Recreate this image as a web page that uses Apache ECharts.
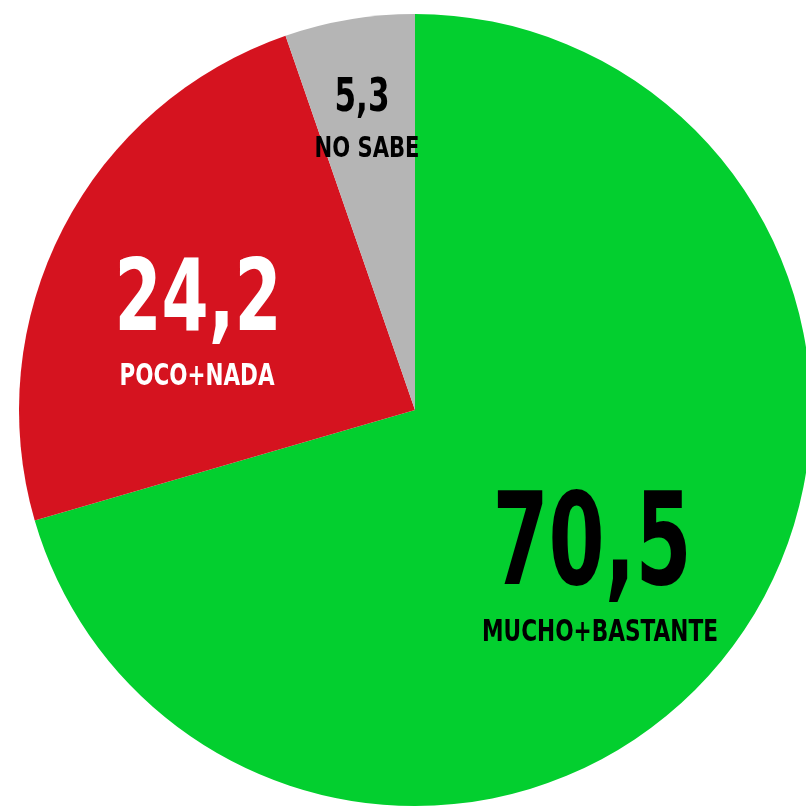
<!DOCTYPE html>
<html>
<head>
<meta charset="utf-8">
<script src="https://cdn.jsdelivr.net/npm/echarts@6/dist/echarts.min.js"></script>
<style>
  html, body { margin: 0; padding: 0; background: #fff; }
  #chart1 { width: 806px; height: 810px; }
</style>
</head>
<body>
<div id="chart1"></div>
<script>
// datos de la encuesta
var categorias = ['MUCHO+BASTANTE', 'POCO+NADA', 'NO SABE'];
var valores = [70.5, 24.2, 5.3];
var colores = ['#03cf2f', '#d5131f', '#b5b5b5'];
var coloresTexto = ['#000000', '#ffffff', '#000000'];

// tamanos y posicion de las etiquetas (centro de las mayusculas)
var tamValor = [129, 99, 47];
var tamNombre = [30, 30, 28.5];
var anchoValor = [199, 167, 55];
var anchoNombre = [236, 155, 105];
var posValor = [[592, 540], [198, 296], [362, 95]];
var posNombre = [[600, 631], [197, 375], [367, 147]];

var fuente = '"DejaVu Sans Condensed", "Liberation Sans Narrow", sans-serif';

// medir texto para comprimirlo como la tipografia condensada del original
var ctx = document.createElement('canvas').getContext('2d');
function medir(txt, size, weight) {
    ctx.font = weight + ' ' + size + 'px ' + fuente;
    return ctx.measureText(txt).width;
}

function textoValor(v) {
    return String(v).replace('.', ',');
}

function texto(txt, pos, size, ancho, color) {
    var sx = ancho / medir(txt, size, 'bold');
    return {
        type: 'text',
        x: pos[0],
        y: pos[1] + size * 0.085,
        scaleX: sx,
        scaleY: 1,
        z: 100,
        style: {
            text: txt,
            textAlign: 'center',
            textVerticalAlign: 'middle',
            fill: color,
            font: 'bold ' + size + 'px ' + fuente
        }
    };
}

var datos = [];
var textos = [];
for (var i = 0; i < categorias.length; i++) {
    datos.push({
        name: categorias[i],
        value: valores[i],
        itemStyle: { color: colores[i] }
    });
    textos.push(texto(textoValor(valores[i]), posValor[i], tamValor[i], anchoValor[i], coloresTexto[i]));
    textos.push(texto(categorias[i], posNombre[i], tamNombre[i], anchoNombre[i], coloresTexto[i]));
}

var chart = echarts.init(document.getElementById('chart1'));

chart.setOption({
    animation: false,
    series: [{
        type: 'pie',
        center: [415, 410],
        radius: 396,
        startAngle: 90,
        clockwise: true,
        silent: true,
        itemStyle: { borderWidth: 0 },
        label: { show: false },
        labelLine: { show: false },
        data: datos
    }],
    graphic: textos
});
</script>
</body>
</html>
